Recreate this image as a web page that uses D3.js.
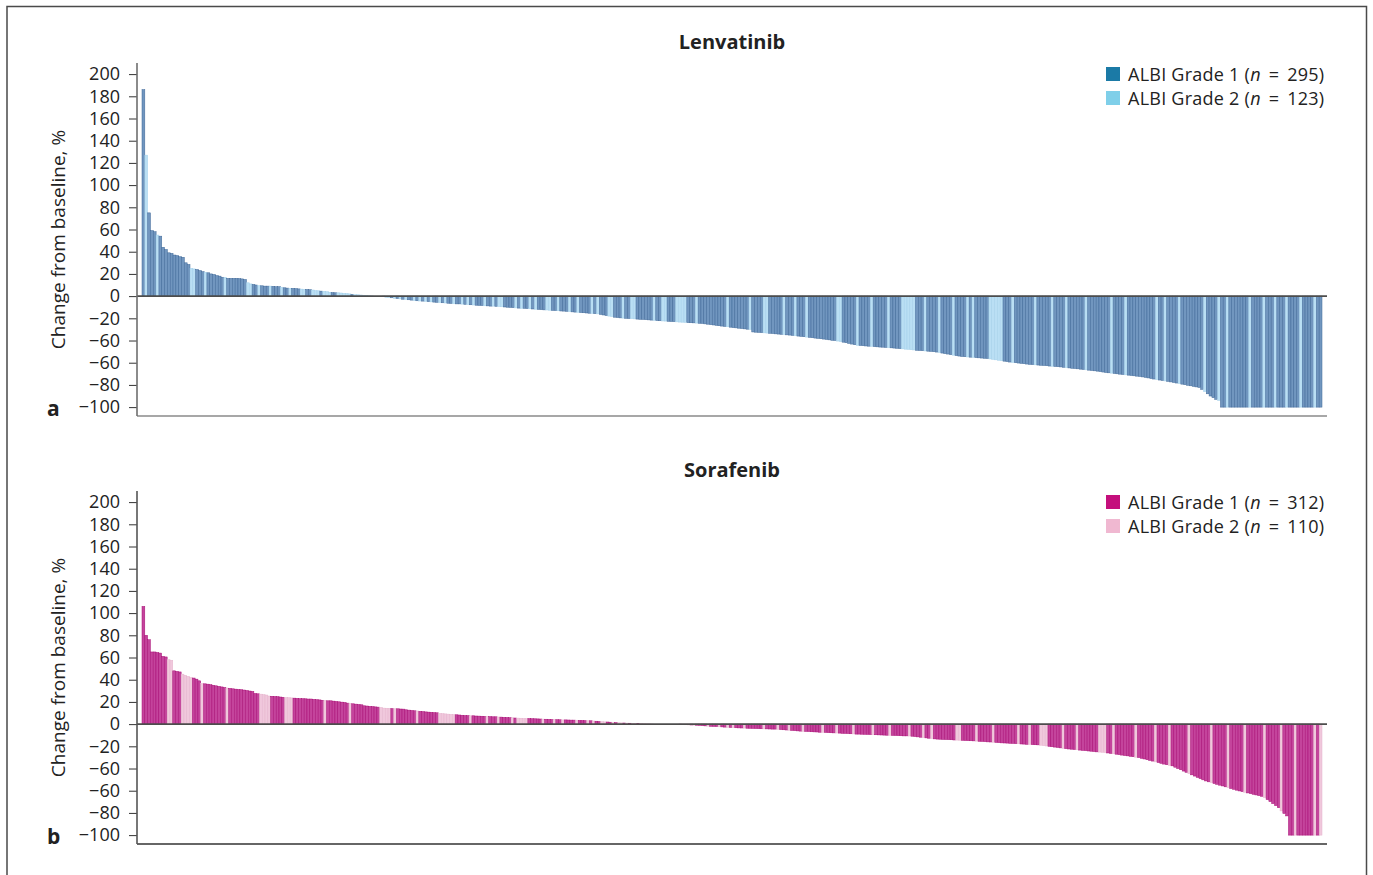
<!DOCTYPE html>
<html>
<head>
<meta charset="utf-8">
<script src="https://cdn.jsdelivr.net/npm/d3@7"></script>
<style>
  body { margin: 0; background: #fff; }
  svg { display: block; }
  text { font-family: "Open Sans", "Noto Sans", sans-serif; fill: #222; }
</style>
</head>
<body>
<svg id="chart" width="1373" height="875"></svg>
<script>
// ---- Axis ticks (labels as printed) ----
const yTickValues = [200, 180, 160, 140, 120, 100, 80, 60, 40, 20, 0, -20, -40, -60, -80, -100];
const yTickLabels = ["200", "180", "160", "140", "120", "100", "80", "60", "40", "20", "0", "\u221220", "\u221260", "\u221260", "\u221280", "\u2212100"];

// ---- Lenvatinib: best % change from baseline, sorted (418 patients) ----
const lenvatinibChange = [
  186, 127, 75, 59, 58, 55, 54, 44, 42, 39,
  38.5, 37, 36.5, 35.5, 35, 30, 28.5, 25, 24.5, 24,
  23, 22, 21.5, 21, 20, 19.5, 18.5, 18, 17, 16.8,
  16, 16, 16, 16, 15.8, 15.5, 15, 12, 11, 10.5,
  10, 9.5, 9.3, 9, 9, 9, 8.8, 8.5, 8.5, 8,
  7.5, 7.2, 7, 7, 6.8, 6.5, 6.3, 6, 6, 5.8,
  5.5, 5, 4.8, 4.5, 4.3, 4, 3.5, 3.2, 3, 3,
  2.8, 2.5, 2.3, 2, 1.5, 1.3, 1.2, 1, 0.8, 0.5,
  0.3, 0.2, 0, 0, 0, -0.5, -1, -1.2, -1.5, -2,
  -2.2, -2.5, -2.8, -3, -3.3, -3.6, -4, -4.2, -4.4, -4.5,
  -4.7, -5, -5.2, -5.4, -5.6, -5.8, -6, -6.2, -6.4, -6.6,
  -6.8, -7, -7, -7.2, -7.4, -7.6, -7.8, -8, -8.2, -8.4,
  -8.5, -8.7, -8.8, -9, -9, -9.2, -9.4, -9.6, -9.8, -10,
  -10.2, -10.4, -10.6, -10.8, -11, -11, -11.2, -11.4, -11.6, -11.8,
  -12, -12.2, -12.4, -12.5, -12.7, -12.9, -13, -13.2, -13.4, -13.5,
  -13.7, -14, -14.2, -14.4, -14.6, -14.8, -15, -15.2, -15.4, -15.6,
  -15.8, -16, -16.5, -17, -17.5, -18, -18.5, -19, -19.3, -19.6,
  -19.8, -20, -20.2, -20.3, -20.5, -20.7, -20.9, -21, -21.2, -21.4,
  -21.6, -21.8, -22, -22.2, -22.4, -22.5, -22.7, -22.9, -23, -23.2,
  -23.4, -23.5, -23.7, -23.9, -24, -24.1, -24.3, -24.5, -24.6, -25,
  -25.3, -25.7, -26, -26.3, -26.7, -27, -27.3, -27.6, -28, -28.4,
  -28.6, -28.9, -29.2, -29.5, -29.8, -30, -32.3, -32.5, -32.7, -32.9,
  -33.1, -33.3, -33.5, -33.7, -34, -34.2, -34.4, -34.6, -34.9, -35.1,
  -35.4, -35.7, -36, -36.3, -36.6, -36.9, -37.2, -37.5, -37.8, -38.1,
  -38.4, -38.7, -39, -39.4, -39.8, -40, -40.5, -41, -41.5, -42,
  -42.6, -43.2, -43.8, -44.3, -44.5, -44.7, -44.9, -45.1, -45.3, -45.5,
  -45.7, -45.9, -46, -46.2, -46.4, -46.6, -46.8, -47, -47.3, -47.5,
  -47.8, -48, -48.3, -48.5, -48.8, -49, -49.2, -49.4, -49.6, -49.8,
  -50.1, -50.4, -50.8, -51.3, -51.8, -52.2, -52.7, -53.2, -53.6, -54,
  -54.4, -54.6, -54.8, -55, -55.2, -55.4, -55.6, -55.8, -56, -56.2,
  -56.6, -57, -57.4, -57.8, -58.2, -58.6, -59, -59.4, -59.8, -60,
  -60.3, -60.6, -60.9, -61.2, -61.5, -61.7, -61.9, -62.1, -62.3, -62.5,
  -62.7, -63, -63.2, -63.4, -63.6, -63.8, -64.1, -64.4, -64.7, -65,
  -65.2, -65.5, -65.8, -66.1, -66.4, -66.7, -67, -67.3, -67.6, -68,
  -68.4, -68.8, -69.1, -69.4, -69.7, -70, -70.3, -70.6, -70.9, -71.2,
  -71.5, -71.8, -72.1, -72.4, -72.8, -73.2, -73.7, -74.2, -74.7, -75.2,
  -75.6, -76, -76.4, -76.8, -77.3, -77.8, -78.3, -78.8, -79.3, -79.8,
  -80.3, -80.8, -81.3, -81.8, -82.3, -84, -86, -88, -90, -91.5,
  -93, -94, -100, -100, -100, -100, -100, -100, -100, -100,
  -100, -100, -100, -100, -100, -100, -100, -100, -100, -100,
  -100, -100, -100, -100, -100, -100, -100, -100, -100, -100,
  -100, -100, -100, -100, -100, -100, -100, -100
];
// ALBI grade of each Lenvatinib patient, same order as above
const lenvatinibGrade = [
  "1211121111", "1111111221", "1121111112", "1111111221", "1211121112",
  "1121112211", "2221222112", "2222122222", "2222112212", "1212112121",
  "2121121211", "2112121211", "1211212211", "1121211212", "1112211211",
  "1211211112", "1211122111", "2112211111", "1211221112", "2221112111",
  "1111111211", "1111121111", "2211111211", "1211121111", "1111112211",
  "1112111121", "1111211112", "2222111211", "1121111211", "1121211111",
  "2222211121", "1111112111", "1121111211", "1111211111", "1112111121",
  "1111111112", "1121111211", "1111112111", "1211211111", "1121111211",
  "1211121111", "21111211"
];

// ---- Sorafenib: best % change from baseline, sorted (422 patients) ----
const sorafenibChange = [
  106, 80, 76, 65, 65, 64.5, 64, 61, 60.5, 58,
  57.5, 48, 47.5, 47, 45, 44, 43, 42, 41.5, 40.5,
  39, 36.6, 36.3, 36, 35.5, 35, 34.5, 34, 33.5, 33,
  32.5, 32.2, 31.8, 31.5, 31.2, 31, 30.7, 30.3, 29.8, 29.4,
  27.6, 27.3, 27, 26.6, 26.2, 25.3, 25.1, 24.9, 24.7, 24.4,
  24.2, 24, 23.8, 23.6, 23.4, 23.2, 23, 22.9, 22.8, 22.6,
  22.6, 22.3, 22, 21.8, 21.5, 21.3, 21, 21, 20.7, 20.4,
  20.1, 19.8, 19.5, 18.9, 18.6, 18.3, 18, 17.7, 17.4, 16.5,
  16.3, 16, 15.8, 15.5, 15.3, 15, 14.4, 14.3, 14.2, 14,
  13.9, 13.8, 13.6, 13.5, 12.9, 12.6, 12.3, 12, 11.8, 11.5,
  11.3, 11, 10.8, 10.6, 10.4, 10.2, 9.6, 9.4, 9.2, 9,
  8.8, 8.6, 8.4, 8.2, 8, 7.8, 7.7, 7.5, 7.5, 7.3,
  7.2, 7.1, 7, 6.9, 6.8, 6.6, 6.6, 6.4, 6.3, 6.1,
  6, 5.8, 5.7, 5.5, 5.4, 5.3, 5.1, 5, 5, 4.9,
  4.8, 4.7, 4.6, 4.5, 4.4, 4.3, 4.2, 4.1, 4, 3.9,
  3.8, 3.8, 3.7, 3.6, 3.6, 3.5, 3.4, 3.3, 3.2, 3.1,
  3, 2.8, 2.6, 2.4, 2.2, 2, 1.9, 1.7, 1.5, 1.4,
  1.2, 1.1, 1, 0.9, 0.8, 0.7, 0.6, 0.5, 0.4, 0.3,
  0.2, 0.2, 0.1, 0, 0, 0, 0, 0, 0, 0,
  0, 0, -0.2, -0.4, -0.6, -0.7, -0.8, -0.9, -1, -1.2,
  -1.4, -1.6, -1.8, -2, -2.1, -2.2, -2.4, -2.5, -2.7, -2.9,
  -3, -3.2, -3.3, -3.4, -3.5, -3.6, -3.7, -3.8, -3.9, -4,
  -4.1, -4.2, -4.3, -4.3, -4.4, -4.5, -4.5, -4.7, -4.9, -5.1,
  -5.3, -5.5, -5.7, -5.9, -6.1, -6.3, -6.5, -6.6, -6.7, -6.9,
  -7, -7.1, -7.3, -7.4, -7.5, -7.7, -7.8, -7.9, -8, -8.1,
  -8.3, -8.4, -8.5, -8.7, -8.8, -9, -9, -9.1, -9.2, -9.3,
  -9.4, -9.5, -9.6, -9.7, -9.8, -9.9, -10, -10.1, -10.2, -10.3,
  -10.4, -10.5, -10.6, -10.6, -10.7, -10.9, -11.2, -11.5, -11.8, -12.1,
  -12.4, -12.7, -13, -13.3, -13.5, -13.6, -13.8, -13.9, -14, -14.1,
  -14.3, -14.4, -14.5, -14.6, -14.8, -14.9, -15, -15.1, -15.3, -15.5,
  -15.6, -15.8, -16, -16.1, -16.3, -16.5, -16.7, -16.9, -17, -17.1,
  -17.3, -17.4, -17.6, -17.7, -17.9, -18, -18.2, -18.3, -18.5, -18.6,
  -18.7, -19, -19.4, -19.7, -20, -20.4, -20.7, -21, -21.4, -21.8,
  -22.1, -22.4, -22.6, -22.9, -23.1, -23.4, -23.7, -23.9, -24.2, -24.4,
  -24.7, -25, -25.2, -25.4, -25.6, -26, -26.4, -26.7, -27.1, -27.5,
  -27.9, -28.3, -28.6, -29, -29.4, -29.8, -30.1, -30.8, -31.4, -32.1,
  -32.7, -33.3, -34, -34.6, -35.3, -36, -36.6, -37.2, -37.6, -38.8,
  -40, -41.1, -42.3, -43.4, -44.6, -45.7, -46.8, -48, -49.1, -50.2,
  -51.2, -52, -52.7, -53.5, -54.2, -55, -55.7, -56.5, -57.2, -58,
  -58.7, -59.5, -60.2, -60.8, -61.4, -62, -62.6, -63.2, -63.8, -64.4,
  -65, -66.2, -68, -69.8, -71.6, -73.4, -75.3, -78.2, -80.5, -82.7,
  -100, -100, -100, -100, -100, -100, -100, -100, -100, -100,
  -100, -100
];
// ALBI grade of each Sorafenib patient, same order as above
const sorafenibGrade = [
  "1111111112", "2111222211", "1211111111", "2111111111", "1122221111",
  "1222111111", "1111121111", "1111211111", "1111122221", "2111111121",
  "1111112222", "2211111211", "1112111211", "1121222211", "1112111211",
  "2111121112", "1211221121", "2212122122", "2221222122", "1212221211",
  "1121112112", "1211121111", "1121111211", "1211112111", "1112111121",
  "1111211111", "1211111211", "1111211112", "1121111111", "1221111121",
  "1111211111", "1112111211", "1222111112", "1111211111", "1122211211",
  "1111121111", "1121111211", "1111211111", "1121111121", "1111211111",
  "1211111211", "1121111112", "12"
];

// ---- Panel styling ----
const panels = [
  {
    title: "Lenvatinib", tag: "a", values: lenvatinibChange, grades: lenvatinibGrade.join(""),
    top: 63, bottom: 416, titleY: 49,
    barFill: { "1": "#7196bf", "2": "#badff4" },
    barStroke: { "1": "#3f6898", "2": "#a3cfea" },
    legendColor: { "1": "#1b7aa6", "2": "#7fcfe9" },
    bottomAxisColor: "#8a8a8a", yAxisColor: "#6e6e6e"
  },
  {
    title: "Sorafenib", tag: "b", values: sorafenibChange, grades: sorafenibGrade.join(""),
    top: 491, bottom: 844, titleY: 477,
    barFill: { "1": "#c4449c", "2": "#f0c8dc" },
    barStroke: { "1": "#a80c74", "2": "#e6b3cd" },
    legendColor: { "1": "#c40f7c", "2": "#f0b8d1" },
    bottomAxisColor: "#333333", yAxisColor: "#555555"
  }
];

const svg = d3.select("#chart");
const axisX = 137, plotRight = 1327, barsLeft = 142, barsRight = 1322;

// outer frame
svg.append("rect")
  .attr("x", 7).attr("y", 6.5).attr("width", 1359.5).attr("height", 900)
  .attr("fill", "none").attr("stroke", "#4a4a4a").attr("stroke-width", 1.5);

panels.forEach(p => {
  const g = svg.append("g");
  const y = d3.scaleLinear().domain([-108, 210]).range([p.bottom, p.top]);
  const x = d3.scaleBand().domain(d3.range(p.values.length)).range([barsLeft, barsRight]).padding(0);

  // bars
  g.append("g").selectAll("rect")
    .data(p.values.map((v, i) => ({ v, i, grade: p.grades[i] })))
    .join("rect")
    .attr("x", d => x(d.i))
    .attr("width", x.bandwidth())
    .attr("y", d => y(Math.max(0, d.v)))
    .attr("height", d => Math.abs(y(d.v) - y(0)))
    .attr("fill", d => p.barFill[d.grade])
    .attr("stroke", d => p.barStroke[d.grade])
    .attr("stroke-width", 0.5);

  // zero line
  g.append("line")
    .attr("x1", axisX).attr("x2", plotRight)
    .attr("y1", y(0)).attr("y2", y(0))
    .attr("stroke", "#4d4d4d").attr("stroke-width", 1.6);

  // bottom axis line
  g.append("line")
    .attr("x1", axisX).attr("x2", plotRight)
    .attr("y1", p.bottom).attr("y2", p.bottom)
    .attr("stroke", p.bottomAxisColor).attr("stroke-width", 1.6);

  // y axis
  const ax = g.append("g")
    .attr("transform", `translate(${axisX},0)`)
    .call(d3.axisLeft(y).tickValues(yTickValues)
      .tickFormat((d, i) => yTickLabels[i]).tickSize(8).tickPadding(9));
  ax.select(".domain").remove();
  ax.selectAll(".tick line").attr("stroke", "#333").attr("stroke-width", 1);
  ax.selectAll(".tick text").attr("font-size", 18).attr("fill", "#222")
    .style("font-family", '"Open Sans", "Noto Sans", sans-serif');
  g.append("line")
    .attr("x1", axisX).attr("x2", axisX)
    .attr("y1", p.top).attr("y2", p.bottom)
    .attr("stroke", p.yAxisColor).attr("stroke-width", 1.6);

  // y axis title
  g.append("text")
    .attr("transform", `translate(65,${(p.top + p.bottom) / 2}) rotate(-90)`)
    .attr("text-anchor", "middle")
    .attr("font-size", 19)
    .text("Change from baseline, %");

  // panel tag
  g.append("text")
    .attr("x", 47).attr("y", p.bottom)
    .attr("font-size", 21).attr("font-weight", "bold")
    .text(p.tag);

  // title
  g.append("text")
    .attr("x", 732).attr("y", p.titleY)
    .attr("text-anchor", "middle")
    .attr("font-size", 20).attr("font-weight", "bold")
    .text(p.title);

  // legend
  const counts = ["1", "2"].map(k => p.grades.split("").filter(c => c === k).length);
  ["1", "2"].forEach((k, j) => {
    const ly = p.top + 4 + j * 24;
    g.append("rect")
      .attr("x", 1106).attr("y", ly).attr("width", 14).attr("height", 14)
      .attr("fill", p.legendColor[k]);
    const t = g.append("text")
      .attr("x", 1128).attr("y", ly + 13.5)
      .attr("font-size", 18)
      .attr("letter-spacing", 0.25);
    t.append("tspan").text(`ALBI Grade ${k} (`);
    t.append("tspan").attr("font-style", "italic").text("n");
    t.append("tspan").attr("word-spacing", 3).text(` = ${counts[j]})`);
  });
});
</script>
</body>
</html>
